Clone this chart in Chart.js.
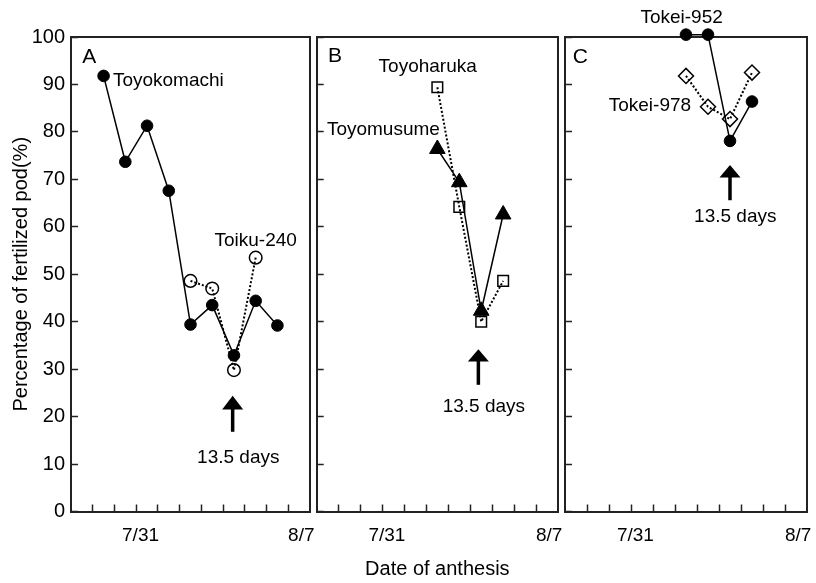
<!DOCTYPE html>
<html>
<head>
<meta charset="utf-8">
<script src="https://cdn.jsdelivr.net/npm/chart.js@4.4.0/dist/chart.umd.min.js"></script>
<style>
  body { margin: 0; background: #fff; }
  #wrap { position: relative; width: 816px; height: 583px; }
  #wrap canvas { position: absolute; left: 0; top: 0; }
</style>
</head>
<body>
<div id="wrap">
  <canvas id="panelA" width="816" height="583"></canvas>
  <canvas id="panelB" width="816" height="583"></canvas>
  <canvas id="panelC" width="816" height="583"></canvas>
</div>
<script>
// x = day slot on the anthesis axis (one tick per day), y = fertilized pod (%)
const daysA = [1.5, 2.5, 3.5, 4.5, 5.5, 6.5, 7.5, 8.5, 9.5];
const daysLate = [5.5, 6.5, 7.5, 8.5];

const toyokomachi = [91.8, 73.7, 81.3, 67.6, 39.4, 43.5, 32.9, 44.4, 39.2];
const toiku240 = [48.6, 47.0, 29.8, 53.5];
const toyomusume = [76.4, 69.4, 42.3, 62.6];
const toyoharuka = [89.4, 64.2, 40.0, 48.6];
const tokei952 = [100.5, 100.5, 78.1, 86.4];
const tokei978 = [91.8, 85.3, 82.7, 92.5];

const dayTicks = [1, 2, 3, 4, 5, 6, 7, 8, 9, 10];
const dateLabels = ['7/31', '8/7'];
const dateLabelAt = [3.2, 10.6];

const FONT = "'Liberation Sans', Arial, Helvetica, sans-serif";
const W = 816, H = 583, TOP = 37, BOTTOM = 511.5;

// marker / line styles
const filledCircle = { pointStyle: 'circle', pointRadius: 5.8, pointBackgroundColor: '#000', pointBorderColor: '#000', pointBorderWidth: 1, borderColor: '#000', borderWidth: 1.5 };
const filledTriangle = { pointStyle: 'triangle', pointRadius: 9, pointBackgroundColor: '#000', pointBorderColor: '#000', pointBorderWidth: 1, borderColor: '#000', borderWidth: 1.5 };
const openCircle = { pointStyle: 'circle', pointRadius: 6.3, pointBackgroundColor: 'rgba(0,0,0,0)', pointBorderColor: '#000', pointBorderWidth: 1.5, borderColor: '#000', borderWidth: 2, borderDash: [2, 2] };
const openSquare = { pointStyle: 'rect', pointRadius: 7.5, pointBackgroundColor: 'rgba(0,0,0,0)', pointBorderColor: '#000', pointBorderWidth: 1.5, borderColor: '#000', borderWidth: 2, borderDash: [2, 2] };
const openDiamond = { pointStyle: 'rectRot', pointRadius: 7.5, pointBackgroundColor: 'rgba(0,0,0,0)', pointBorderColor: '#000', pointBorderWidth: 1.5, borderColor: '#000', borderWidth: 2, borderDash: [2, 2] };

function serie(label, xs, ys, estilo) {
    return Object.assign({
        label: label,
        data: xs.map((x, i) => ({ x: x, y: ys[i] })),
        tension: 0,
        clip: false,
        fill: false
    }, estilo);
}

// strain names, panel letters, the 13.5 days arrow
const notesPlugin = {
    id: 'notes',
    afterDatasetsDraw(chart, args, opts) {
        const { ctx, scales: { x, y } } = chart;
        ctx.save();
        ctx.fillStyle = '#000';
        ctx.textBaseline = 'alphabetic';
        (opts.texts || []).forEach(t => {
            ctx.font = `${t.size}px ${FONT}`;
            ctx.textAlign = 'center';
            ctx.fillText(t.text, x.getPixelForValue(t.x), y.getPixelForValue(t.y));
        });
        const a = opts.arrow;
        if (a) {
            const ax = x.getPixelForValue(a.x);
            const tip = y.getPixelForValue(a.top);
            const base = y.getPixelForValue(a.base);
            const end = y.getPixelForValue(a.bottom);
            ctx.strokeStyle = '#000';
            ctx.lineWidth = 3.5;
            ctx.beginPath();
            ctx.moveTo(ax, base - 1);
            ctx.lineTo(ax, end);
            ctx.stroke();
            ctx.beginPath();
            ctx.moveTo(ax, tip);
            ctx.lineTo(ax - 10.5, base);
            ctx.lineTo(ax + 10.5, base);
            ctx.closePath();
            ctx.fill();
        }
        ctx.restore();
    }
};

function zeroPad(s) {
    s.paddingLeft = 0; s.paddingRight = 0; s.paddingTop = 0; s.paddingBottom = 0;
}

function criarPainel(id, p) {
    return new Chart(document.getElementById(id), {
        type: 'line',
        data: { datasets: p.datasets },
        options: {
            responsive: false,
            animation: false,
            devicePixelRatio: 1,
            layout: { padding: 0, autoPadding: false },
            plugins: {
                legend: { display: false },
                tooltip: { enabled: false },
                notes: { texts: p.texts, arrow: p.arrow }
            },
            scales: {
                x: {
                    type: 'linear', position: 'bottom', min: 0, max: 11,
                    afterBuildTicks: s => {
                        s.ticks = dayTicks.map(v => ({ value: v }))
                            .concat(dateLabelAt.map((v, i) => ({ value: v, text: dateLabels[i] })))
                            .sort((a, b) => a.value - b.value);
                    },
                    afterFit: s => { s.height = H - BOTTOM; zeroPad(s); },
                    ticks: {
                        autoSkip: false, maxRotation: 0, minRotation: 0, padding: 20, color: '#000',
                        font: { family: FONT, size: 19 },
                        callback: (v, i, t) => (t[i] && t[i].text) || ''
                    },
                    grid: {
                        drawOnChartArea: false, tickLength: -7, tickWidth: 1.5,
                        tickColor: c => (c.tick && Number.isInteger(c.tick.value)) ? '#222' : 'rgba(0,0,0,0)'
                    },
                    border: { color: '#222', width: 2 },
                    title: {
                        display: !!p.xTitle, text: p.xTitle || '', color: '#000',
                        font: { family: FONT, size: 20 }, padding: { top: 0, bottom: 2 }
                    }
                },
                y: {
                    type: 'linear', position: 'left', min: 0, max: 100,
                    afterFit: s => { s.width = p.left; zeroPad(s); },
                    ticks: {
                        stepSize: 10, display: !!p.yLabels, padding: 13, color: '#000',
                        font: { family: FONT, size: 20 }
                    },
                    grid: { drawOnChartArea: false, tickLength: -7, tickWidth: 1.5, tickColor: '#222' },
                    border: { color: '#222', width: 2 },
                    title: {
                        display: !!p.yTitle, text: p.yTitle || '', color: '#000',
                        font: { family: FONT, size: 20 }, padding: { top: 9, bottom: 0 }
                    }
                },
                x2: {
                    type: 'linear', position: 'top', min: 0, max: 11,
                    afterFit: s => { s.height = TOP; zeroPad(s); },
                    ticks: { display: false },
                    grid: { display: false },
                    border: { color: '#222', width: 2 }
                },
                y2: {
                    type: 'linear', position: 'right', min: 0, max: 100,
                    afterFit: s => { s.width = W - p.right; zeroPad(s); },
                    ticks: { display: false },
                    grid: { display: false },
                    border: { color: '#222', width: 2 }
                }
            }
        },
        plugins: [notesPlugin]
    });
}

criarPainel('panelA', {
    left: 71, right: 310,
    yLabels: true,
    yTitle: 'Percentage of fertilized pod(%)',
    datasets: [
        serie('Toyokomachi', daysA, toyokomachi, filledCircle),
        serie('Toiku-240', daysLate, toiku240, openCircle)
    ],
    texts: [
        { text: 'A', x: 0.84, y: 94.5, size: 21 },
        { text: 'Toyokomachi', x: 4.48, y: 89.7, size: 19 },
        { text: 'Toiku-240', x: 8.5, y: 56.0, size: 19 },
        { text: '13.5 days', x: 7.7, y: 10.3, size: 19 }
    ],
    arrow: { x: 7.44, top: 24.4, base: 21.5, bottom: 16.8 }
});

criarPainel('panelB', {
    left: 316.7, right: 558,
    xTitle: 'Date of anthesis',
    datasets: [
        serie('Toyomusume', daysLate, toyomusume, filledTriangle),
        serie('Toyoharuka', daysLate, toyoharuka, openSquare)
    ],
    texts: [
        { text: 'B', x: 0.83, y: 94.8, size: 21 },
        { text: 'Toyoharuka', x: 5.06, y: 92.6, size: 19 },
        { text: 'Toyomusume', x: 3.04, y: 79.3, size: 19 },
        { text: '13.5 days', x: 7.62, y: 21.0, size: 19 }
    ],
    arrow: { x: 7.37, top: 34.2, base: 31.6, bottom: 26.7 }
});

criarPainel('panelC', {
    left: 565, right: 807,
    datasets: [
        serie('Tokei-952', daysLate, tokei952, filledCircle),
        serie('Tokei-978', daysLate, tokei978, openDiamond)
    ],
    texts: [
        { text: 'C', x: 0.7, y: 94.5, size: 21 },
        { text: 'Tokei-952', x: 5.3, y: 103.0, size: 19 },
        { text: 'Tokei-978', x: 3.86, y: 84.4, size: 19 },
        { text: '13.5 days', x: 7.74, y: 61.0, size: 19 }
    ],
    arrow: { x: 7.5, top: 73.0, base: 70.4, bottom: 65.6 }
});
</script>
</body>
</html>
